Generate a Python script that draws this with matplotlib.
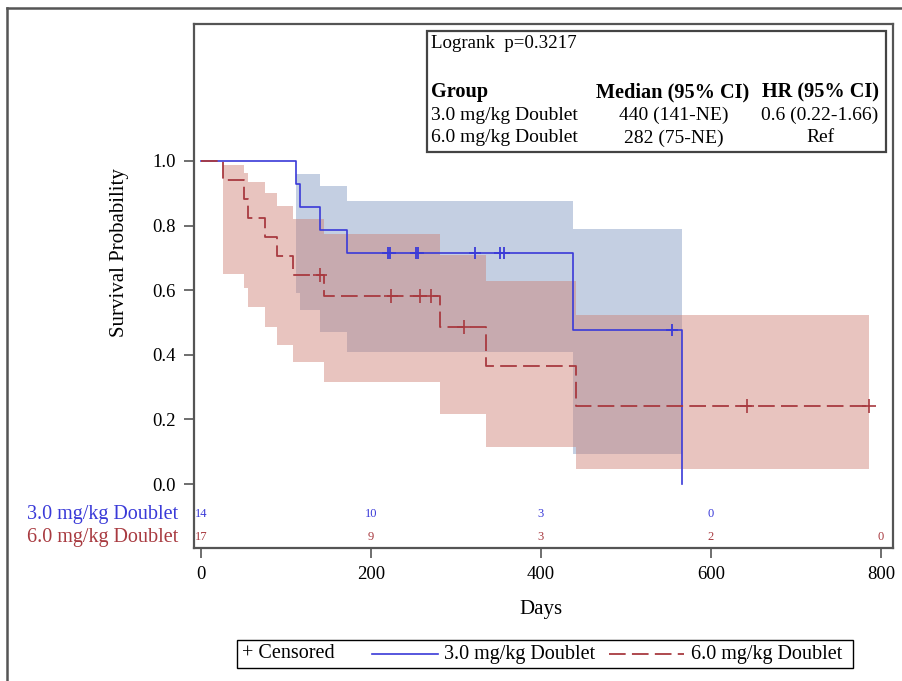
import matplotlib
matplotlib.use("Agg")
import matplotlib.pyplot as plt
from matplotlib.lines import Line2D
from matplotlib.patches import Rectangle

plt.rcParams['font.family'] = ['Liberation Serif', 'DejaVu Serif']
plt.rcParams['lines.scale_dashes'] = False

# 3.0 mg/kg Doublet (step curve, censor marks, 95% CI band)
blue_t = [0, 112, 117, 140, 172, 438, 566]
blue_s = [1.0, 0.929, 0.857, 0.786, 0.714, 0.476, 0.0]
blue_cens_t = [220, 222, 253, 256, 322, 352, 356, 554]
blue_cens_s = [0.714, 0.714, 0.714, 0.714, 0.714, 0.714, 0.714, 0.476]
blue_ci_t = [112, 117, 140, 172, 438, 566]
blue_ci_lo = [0.59, 0.54, 0.47, 0.41, 0.093, 0.093]
blue_ci_hi = [0.96, 0.96, 0.923, 0.877, 0.79, 0.79]

# 6.0 mg/kg Doublet
red_t = [0, 26, 51, 56, 75, 90, 109, 145, 281, 335, 441, 787]
red_s = [1.0, 0.941, 0.882, 0.824, 0.765, 0.706, 0.647, 0.582, 0.485, 0.364, 0.243, 0.243]
red_cens_t = [140, 224, 258, 271, 309, 642, 786]
red_cens_s = [0.647, 0.582, 0.582, 0.582, 0.485, 0.243, 0.243]
red_ci_t = [26, 51, 56, 75, 90, 109, 145, 281, 335, 441, 786]
red_ci_lo = [0.65, 0.607, 0.548, 0.486, 0.43, 0.378, 0.316, 0.217, 0.115, 0.046, 0.046]
red_ci_hi = [0.988, 0.964, 0.935, 0.90, 0.86, 0.82, 0.774, 0.71, 0.628, 0.523, 0.523]

# numbers at risk
risk_t = [0, 200, 400, 600, 800]
blue_risk = [14, 10, 3, 0]
red_risk = [17, 9, 3, 2, 0]

groups = ['3.0 mg/kg Doublet', '6.0 mg/kg Doublet']
medians = ['440 (141-NE)', '282 (75-NE)']
hrs = ['0.6 (0.22-1.66)', 'Ref']

BLUE = '#3a3ad8'
RED = '#a83a40'
W, H = 903, 681

fig = plt.figure(figsize=(W / 100, H / 100), dpi=100)
ax = fig.add_axes([194 / W, 1 - 548 / H, 699 / W, 524 / H])

def fx(x):
    return x / W

def fy(y):
    return 1 - y / H

ax.fill_between(blue_ci_t, blue_ci_lo, blue_ci_hi, step='post',
                color='#7d95c0', alpha=0.45, lw=0)
ax.fill_between(red_ci_t, red_ci_lo, red_ci_hi, step='post',
                color='#cc7d72', alpha=0.45, lw=0)

ax.step(blue_t, blue_s, where='post', color=BLUE, lw=1.2)
ax.step(red_t, red_s, where='post', color=RED, lw=1.3, dashes=(12, 4.5))
ax.plot(blue_cens_t, blue_cens_s, ls='none', marker='|', ms=9, mew=1.3, color=BLUE)
ax.plot(blue_cens_t, blue_cens_s, ls='none', marker='_', ms=9, mew=1.3, color=BLUE)
ax.plot(red_cens_t, red_cens_s, ls='none', marker='+', ms=10, mew=1.2, color=RED)

for t, n in zip(risk_t, blue_risk):
    ax.text(t, -0.093, str(n), color=BLUE, fontsize=9, ha='center', va='center')
for t, n in zip(risk_t, red_risk):
    ax.text(t, -0.164, str(n), color=RED, fontsize=9, ha='center', va='center')
ax.text(-0.022, -0.093, groups[0], color=BLUE, fontsize=14.5, ha='right', va='center',
        transform=ax.get_yaxis_transform())
ax.text(-0.022, -0.164, groups[1], color=RED, fontsize=14.5, ha='right', va='center',
        transform=ax.get_yaxis_transform())

ax.set_xlim(-8, 814)
ax.set_ylim(-0.198, 1.424)
ax.set_xticks([0, 200, 400, 600, 800])
ax.set_yticks([0.0, 0.2, 0.4, 0.6, 0.8, 1.0])
ax.set_yticklabels(['0.0', '0.2', '0.4', '0.6', '0.8', '1.0'])
ax.tick_params(labelsize=13.5, length=7, width=1.2, color='#555555', pad=6)
for s in ax.spines.values():
    s.set_color('#555555')
    s.set_linewidth(1.6)
ax.set_xlabel('Days', fontsize=15)
ax.set_ylabel('Survival Probability', fontsize=15)
ax.xaxis.set_label_coords(0.496, -0.1)
ax.yaxis.set_label_coords(-0.093, 0.563)

# inset statistics box
fig.add_artist(Rectangle((fx(427), fy(152)), fx(886) - fx(427), fy(31) - fy(152),
                         transform=fig.transFigure, fill=False, ec='#444444', lw=1.6))
fs = 14
fig.text(fx(431), fy(44), 'Logrank  p=0.3217', fontsize=13.6, va='center')
fig.text(fx(431), fy(92), 'Group', fontsize=14.6, va='center', weight='bold')
fig.text(fx(673), fy(92), 'Median (95% CI)', fontsize=14.6, va='center', ha='center', weight='bold')
fig.text(fx(821), fy(92), 'HR (95% CI)', fontsize=14.6, va='center', ha='center', weight='bold')
for i, yy in enumerate([115, 138]):
    fig.text(fx(431), fy(yy), groups[i], fontsize=fs, va='center')
    fig.text(fx(674), fy(yy), medians[i], fontsize=fs, va='center', ha='center')
    fig.text(fx(820), fy(yy), hrs[i], fontsize=fs, va='center', ha='center')

# outer frame (cropped)
fig.add_artist(Line2D([fx(7), fx(7)], [fy(8), 0], transform=fig.transFigure,
                      color='#555555', lw=1.8))
fig.add_artist(Line2D([fx(7), 1], [fy(8), fy(8)], transform=fig.transFigure,
                      color='#555555', lw=1.8))

# legend at the bottom, laid out by hand
fig.add_artist(Rectangle((fx(237), fy(668)), fx(853) - fx(237), fy(640) - fy(668),
                         transform=fig.transFigure, fill=False, ec='black', lw=1.0))
ly = fy(654)
fig.text(fx(242), ly, '+ Censored', fontsize=14.5, va='center')
fig.add_artist(Line2D([fx(372), fx(438)], [ly, ly], transform=fig.transFigure,
                      color=BLUE, lw=1.2))
fig.text(fx(444), ly, groups[0], fontsize=14.5, va='center')
fig.add_artist(Line2D([fx(609), fx(684)], [ly, ly], transform=fig.transFigure,
                      color=RED, lw=1.3, dashes=(12, 4.5)))
fig.text(fx(691), ly, groups[1], fontsize=14.5, va='center')

fig.savefig('out.png', dpi=100)
